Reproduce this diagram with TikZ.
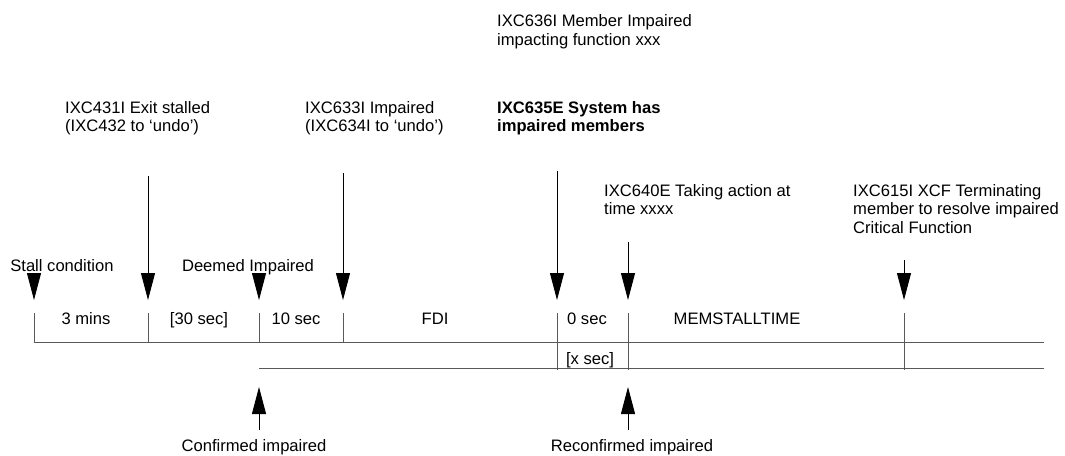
\documentclass[tikz,border=0pt]{standalone}
\usepackage{fontspec}
\setmainfont{Liberation Sans}
\usetikzlibrary{arrows.meta}
\begin{document}
\begin{tikzpicture}[x=1pt,y=-1pt,
  every node/.style={inner sep=0pt,font=\fontsize{16.6}{18.6}\selectfont},
  msg/.style={anchor=north west,align=left},
  lbl/.style={anchor=base},
  axis/.style={draw=black!65,line width=0.9pt},
  tick/.style={draw=black!65,line width=0.9pt},
  evt/.style={draw=black,line width=0.9pt,-{Triangle[length=27pt,width=14pt]}}]
\useasboundingbox (0,0) rectangle (1065,455);

% timeline rails
\coordinate (r1s) at (34,342);  \coordinate (r1e) at (1044,342);
\coordinate (r2s) at (259,368); \coordinate (r2e) at (1044,368);
\draw[axis] (r1s) -- (r1e);
\draw[axis] (r2s) -- (r2e);

% interval ticks
\foreach \n/\x/\b in {ta/34/342,tb/148/342,tc/259/342,td/343/342,te/557/370,tf/628/370,tg/904/370}{
  \coordinate (\n top) at (\x,313);
  \coordinate (\n bot) at (\x,\b);
  \draw[tick] (\n top) -- (\n bot);
}

% event messages
\node[msg] (m431) at (65,101) {IXC431I Exit stalled\\(IXC432 to ‘undo’)};
\node[msg] (m633) at (305,101) {IXC633I Impaired\\(IXC634I to ‘undo’)};
\node[msg] (m636) at (497,14.5) {IXC636I Member Impaired\\impacting function xxx};
\node[msg,font=\fontsize{16.6}{18.6}\selectfont\bfseries] (m635) at (497,101) {IXC635E System has\\impaired members};
\node[msg] (m640) at (604,184) {IXC640E Taking action at\\time xxxx};
\node[msg] (m615) at (853,184) {IXC615I XCF Terminating\\member to resolve impaired\\Critical Function};

% point labels
\node[lbl] (stall) at (62,271) {Stall condition};
\node[lbl] (deemed) at (248,271) {Deemed Impaired};
\node[lbl] (conf) at (254,451) {Confirmed impaired};
\node[lbl] (reconf) at (632,451) {Reconfirmed impaired};

% interval labels
\node[lbl] (i1) at (86,324) {3 mins};
\node[lbl] (i2) at (199,324) {[30 sec]};
\node[lbl] (i3) at (296,324) {10 sec};
\node[lbl] (i4) at (435,324) {FDI};
\node[lbl] (i5) at (587,324) {0 sec};
\node[lbl] (i6) at (737,324) {MEMSTALLTIME};
\node[lbl] (i7) at (590,364) {[x sec]};

% downward event arrows
\coordinate (a1s) at (34,273);  \coordinate (a1e) at (34,300);
\coordinate (a2s) at (148,176); \coordinate (a2e) at (148,300);
\coordinate (a3s) at (259,273); \coordinate (a3e) at (259,300);
\coordinate (a4s) at (343,173); \coordinate (a4e) at (343,300);
\coordinate (a5s) at (557,171); \coordinate (a5e) at (557,300);
\coordinate (a6s) at (628,242); \coordinate (a6e) at (628,300);
\coordinate (a7s) at (904,260); \coordinate (a7e) at (904,300);
\foreach \a in {a1,a2,a3,a4,a5,a6,a7}
  \draw[evt] (\a s) -- (\a e);

% upward confirmation arrows
\coordinate (u1s) at (259,430); \coordinate (u1e) at (259,387);
\coordinate (u2s) at (628,430); \coordinate (u2e) at (628,387);
\draw[evt] (u1s) -- (u1e);
\draw[evt] (u2s) -- (u2e);
\end{tikzpicture}
\end{document}
